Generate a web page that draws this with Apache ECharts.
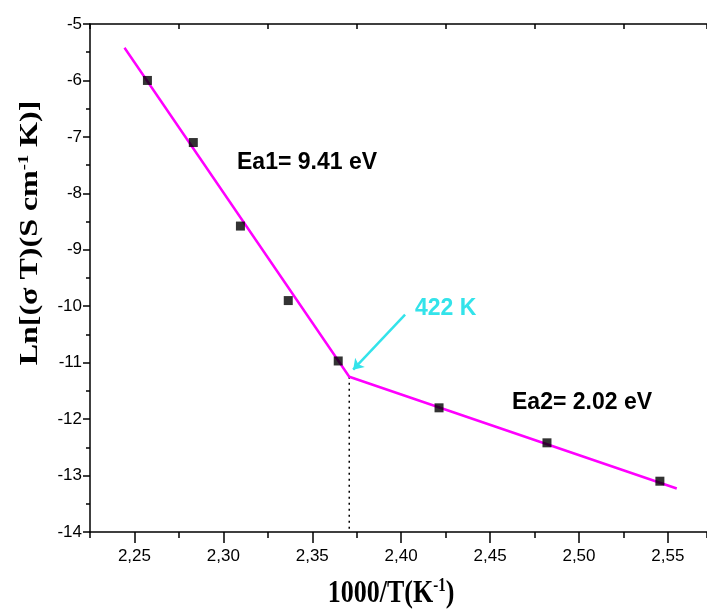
<!DOCTYPE html>
<html>
<head>
<meta charset="utf-8">
<script src="https://cdn.jsdelivr.net/npm/echarts@6/dist/echarts.min.js"></script>
<style>
  html, body { margin: 0; padding: 0; background: #fff; }
  #chart { width: 707px; height: 612px; }
</style>
</head>
<body>
<div id="chart"></div>
<script>
// measured points: 1000/T vs Ln(sigma T)
const invT = [2.2573, 2.2831, 2.3096, 2.3365, 2.3646, 2.4213, 2.482, 2.5455];
const lnSigmaT = [-6.0, -7.1, -8.58, -9.9, -10.97, -11.8, -12.42, -13.1];

// two linear fits meeting at the transition
const fitX = [2.2444, 2.3708, 2.555];
const fitY = [-5.42, -11.25, -13.23];

// dotted drop from transition to axis
const dropX = [2.3708, 2.3708];
const dropY = [-11.25, -14];

// arrow pointing at transition (tail -> head)
const arrowX = [2.4022, 2.373];
const arrowY = [-10.15, -11.125];

const xMajor = [2.25, 2.30, 2.35, 2.40, 2.45, 2.50, 2.55];

const chart = echarts.init(document.getElementById("chart"));

const zip = (a, b) => a.map((v, i) => [v, b[i]]);

chart.setOption({
  animation: false,
  grid: { left: 90, right: 0, top: 24, bottom: 80 },
  xAxis: [
    {
      type: "value",
      position: "bottom",
      min: 2.225,
      max: 2.572,
      axisLine: { onZero: false, lineStyle: { color: "#000", width: 1.5 } },
      axisTick: { customValues: xMajor, length: 11, lineStyle: { color: "#000", width: 1.5 } },
      axisLabel: {
        customValues: xMajor,
        margin: 16,
        color: "#000",
        fontFamily: "Liberation Sans",
        fontSize: 17,
        formatter: (v) => v.toFixed(2).replace(".", ","),
      },
      splitLine: { show: false },
    },
    {
      // minor ticks at the bottom
      type: "value",
      position: "bottom",
      min: 2.225,
      max: 2.572,
      interval: 0.05,
      axisLine: { show: false },
      axisTick: { length: 6, lineStyle: { color: "#000", width: 1.5 } },
      axisLabel: { show: false },
      splitLine: { show: false },
    },
    {
      // top frame
      type: "value",
      position: "top",
      min: 2.225,
      max: 2.572,
      interval: 0.05,
      axisLine: { onZero: false, lineStyle: { color: "#000", width: 1.5 } },
      axisTick: { inside: true, length: 5, lineStyle: { color: "#000", width: 1.5 } },
      axisLabel: { show: false },
      splitLine: { show: false },
    },
  ],
  yAxis: {
    type: "value",
    min: -14,
    max: -5,
    interval: 1,
    axisLine: { show: true, onZero: false, lineStyle: { color: "#000", width: 1.5 } },
    axisTick: { show: true, length: 7, lineStyle: { color: "#000", width: 1.5 } },
    minorTick: { show: true, splitNumber: 2, length: 4, lineStyle: { color: "#000", width: 1.5 } },
    axisLabel: { margin: 8, color: "#000", fontFamily: "Liberation Sans", fontSize: 17 },
    splitLine: { show: false },
  },
  series: [
    {
      name: "fit",
      type: "line",
      data: zip(fitX, fitY),
      symbol: "none",
      lineStyle: { color: "#ff00ff", width: 2.5 },
      z: 3,
    },
    {
      name: "drop",
      type: "line",
      data: zip(dropX, dropY),
      symbol: "none",
      lineStyle: { color: "#000", width: 1.5, type: [2, 4] },
      z: 2,
    },
    {
      name: "arrow",
      type: "lines",
      coordinateSystem: "cartesian2d",
      data: [{ coords: zip(arrowX, arrowY) }],
      symbol: ["none", "arrow"],
      symbolSize: 10,
      lineStyle: { color: "#33e3ea", width: 2.5, opacity: 1 },
      z: 4,
    },
    {
      name: "data",
      type: "scatter",
      data: zip(invT, lnSigmaT),
      symbol: "rect",
      symbolSize: 9,
      itemStyle: { color: "#000" },
      z: 5,
    },
  ],
  graphic: [
    {
      type: "text",
      x: 30,
      y: 233,
      rotation: Math.PI / 2,
      scaleX: 1.23,
      style: {
        text: "Ln[(σ T)(S cm{sup|-1} K)]",
        font: "bold 26px 'Liberation Serif'",
        fill: "#000",
        align: "center",
        verticalAlign: "middle",
        rich: { sup: { font: "bold 15px 'Liberation Serif'", padding: [0, 0, 12, 0] } },
      },
    },
    {
      type: "text",
      x: 391,
      y: 594,
      scaleY: 1.23,
      style: {
        text: "1000/T(K{sup|-1})",
        font: "bold 26px 'Liberation Serif'",
        fill: "#000",
        align: "center",
        verticalAlign: "middle",
        rich: { sup: { font: "bold 15px 'Liberation Serif'", padding: [0, 0, 12, 0] } },
      },
    },
    {
      type: "text",
      x: 237,
      y: 163,
      style: {
        text: "Ea1= 9.41 eV",
        font: "bold 23px 'Liberation Sans'",
        fill: "#000",
        verticalAlign: "middle",
      },
    },
    {
      type: "text",
      x: 512,
      y: 403,
      style: {
        text: "Ea2= 2.02 eV",
        font: "bold 23px 'Liberation Sans'",
        fill: "#000",
        verticalAlign: "middle",
      },
    },
    {
      type: "text",
      x: 415,
      y: 309,
      style: {
        text: "422 K",
        font: "bold 23px 'Liberation Sans'",
        fill: "#33e3ea",
        verticalAlign: "middle",
      },
    },
  ],
});
</script>
</body>
</html>
